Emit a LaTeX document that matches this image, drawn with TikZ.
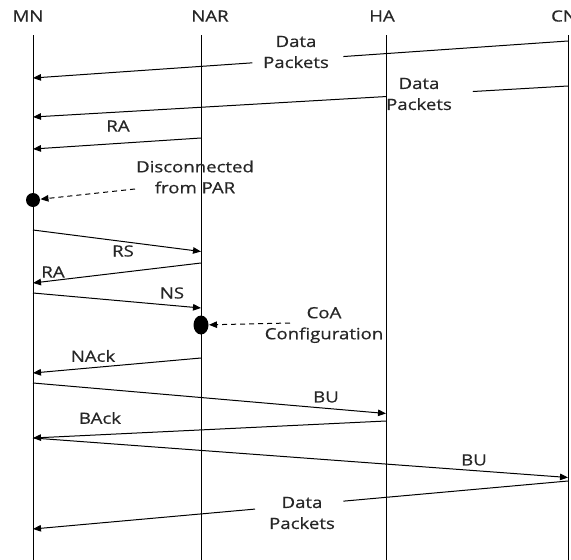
\documentclass[tikz,border=0pt]{standalone}
\usepackage{fontspec}
\setmainfont{Open Sans}[FakeStretch=1.2,FakeBold=0.6]
\usetikzlibrary{arrows.meta,calc,shapes.geometric}

\tikzset{
	msg/.style={-{Triangle[length=8pt,width=6.5pt]}},
	lbl/.style={align=center, inner sep=0pt, text=black!85, font=\fontsize{15.5}{21}\selectfont},
	dot/.style={circle, fill, inner sep=0pt, minimum size=14pt},
	bigdot/.style={ellipse, fill, inner sep=0pt, minimum width=15pt, minimum height=19pt},
	hint/.style={dashed, dash pattern=on 5pt off 4pt, msg},
}

\begin{document}
\begin{tikzpicture}[x=1pt,y=-1pt,line width=1pt]
	\useasboundingbox (0,0) rectangle (571,560);

	% lifelines
	\foreach \name/\x/\hx in {MN/33/28,NAR/201/210,HA/386/382,CN/568/564} {
		\node[lbl] (h\name) at (\hx,16) {\name};
		\draw (\x,35) -- (\x,560);
	}

	% data packets CN -> MN
	\coordinate (d1a) at (568,41);
	\coordinate (d1b) at (33,78);
	\node[lbl] (d1) at (296,52) {Data\\Packets};
	\draw (d1a) -- ($(d1a)!0.42!(d1b)$);
	\draw[msg] ($(d1a)!0.59!(d1b)$) -- (d1b);

	\coordinate (d2a) at (568,86);
	\coordinate (d2b) at (33,117);
	\node[lbl] (d2) at (419,94) {Data\\Packets};
	\draw (d2a) -- ($(d2a)!0.178!(d2b)$);
	\draw[msg] ($(d2a)!0.34!(d2b)$) -- (d2b);

	% RA
	\coordinate (ra1a) at (201,138);
	\coordinate (ra1b) at (33,149);
	\draw[msg] (ra1a) -- (ra1b);
	\node[lbl] (ra1) at (118,126) {RA};

	% disconnected
	\node[dot] (disc) at (33,200) {};
	\coordinate (disca) at (135,189);
	\draw[hint] (disca) -- (disc);
	\node[lbl] (disctxt) at (195,177) {Disconnected\\from PAR};

	% RS, RA, NS
	\coordinate (rsa) at (33,230);
	\coordinate (rsb) at (201,251.5);
	\draw[msg] (rsa) -- (rsb);
	\node[lbl] (rs) at (123,251) {RS};

	\coordinate (ra2a) at (201,263);
	\coordinate (ra2b) at (33,283);
	\draw[msg] (ra2a) -- (ra2b);
	\node[lbl] (ra2) at (53,272) {RA};

	\coordinate (nsa) at (33,293);
	\coordinate (nsb) at (201,308);
	\draw[msg] (nsa) -- (nsb);
	\node[lbl] (ns) at (172,293) {NS};

	% CoA configuration
	\node[bigdot] (coa) at (201,325) {};
	\coordinate (coaa) at (290,323);
	\draw[hint] (coaa) -- (coa);
	\node[lbl] (coatxt) at (324,325) {CoA\\Configuration};

	% NAck
	\coordinate (nacka) at (201,358);
	\coordinate (nackb) at (33,373);
	\draw[msg] (nacka) -- (nackb);
	\node[lbl] (nack) at (93,356) {NAck};

	% BU to HA, BAck
	\coordinate (bu1a) at (33,383);
	\coordinate (bu1b) at (386,413.5);
	\draw[msg] (bu1a) -- (bu1b);
	\node[lbl] (bu1) at (326,397) {BU};

	\coordinate (backa) at (386,421);
	\coordinate (backb) at (33,438);
	\draw[msg] (backa) -- (backb);
	\node[lbl] (back) at (100,418) {BAck};

	% BU to CN
	\coordinate (bu2a) at (33,438);
	\coordinate (bu2b) at (568,477.5);
	\draw[msg] (bu2a) -- (bu2b);
	\node[lbl] (bu2) at (474,460) {BU};

	% data packets again
	\coordinate (d3a) at (568,481);
	\coordinate (d3b) at (33,529);
	\node[lbl] (d3) at (302,513) {Data\\Packets};
	\draw (d3a) -- ($(d3a)!0.42!(d3b)$);
	\draw[msg] ($(d3a)!0.585!(d3b)$) -- (d3b);
\end{tikzpicture}
\end{document}
